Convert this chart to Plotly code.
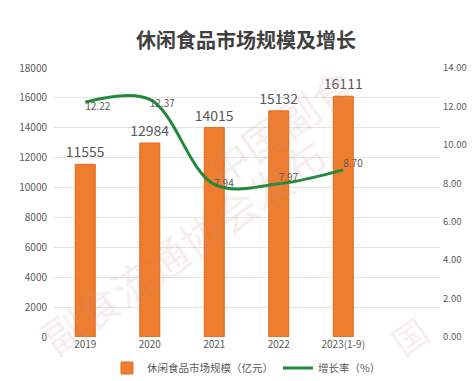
import plotly.graph_objects as go

years = ["2019", "2020", "2021", "2022", "2023(1-9)"]
market_size = [11555, 12984, 14015, 15132, 16111]
growth_rate = [12.22, 12.37, 7.94, 7.97, 8.70]
left_ticks = [0, 2000, 4000, 6000, 8000, 10000, 12000, 14000, 16000, 18000]
right_ticks = [0, 2, 4, 6, 8, 10, 12, 14]

xpos = list(range(len(years)))
FONT = "Noto Sans CJK SC"
GRAY = "#595959"

fig = go.Figure()
fig.add_trace(go.Bar(
    x=xpos, y=market_size, name="休闲食品市场规模（亿元）",
    marker=dict(color="#EE7D2F", line=dict(color="#E06A1E", width=1)),
    width=0.31,
    text=[str(v) for v in market_size], textposition="outside",
    constraintext="none",
    textfont=dict(size=14, color=GRAY, family=FONT),
    cliponaxis=False,
))
fig.add_trace(go.Scatter(
    x=xpos, y=growth_rate, name="增长率（%）", yaxis="y2",
    mode="lines+text",
    line=dict(color="#1E8A3A", width=3, shape="spline", smoothing=1.0),
    text=[f"{v:.2f}" for v in growth_rate],
    textposition=["bottom right", "bottom right", "middle right", "top right", "top right"],
    textfont=dict(size=10, color=GRAY, family=FONT),
    cliponaxis=False,
))

wm_color = "rgba(200,150,150,0.18)"
for txt, cx, cy, sz in [("副食流通协会发布", 175, 237, 42), ("中国副食", 272, 42, 42), ("国", 432, 360, 34)]:
    fig.add_annotation(text=txt, xref="paper", yref="paper",
                       x=(cx - 45) / 387, y=(329 - cy) / 269,
                       showarrow=False, textangle=-35,
                       font=dict(size=sz, color=wm_color, family=FONT))

fig.update_layout(
    width=476, height=381,
    margin=dict(l=45, r=44, t=60, b=52, autoexpand=False),
    paper_bgcolor="white", plot_bgcolor="white",
    title=dict(text="<b>休闲食品市场规模及增长</b>", x=0.5, xanchor="center",
               y=(381 - 33) / 381, yanchor="middle", yref="container",
               font=dict(size=20, color="#404040", family=FONT)),
    font=dict(family=FONT, color=GRAY, size=10),
    xaxis=dict(range=[-0.5, 5.5], tickvals=xpos, ticktext=years, showgrid=False,
               zeroline=False, showline=False, tickfont=dict(size=10, color=GRAY),
               automargin=False),
    yaxis=dict(range=[0, 18000], tickvals=left_ticks, tickformat="d", showgrid=True,
               gridcolor="#E3E3E3", zeroline=False, tickfont=dict(size=10, color=GRAY),
               ticks="", ticklabelstandoff=5, automargin=False),
    yaxis2=dict(range=[0, 14], tickvals=right_ticks, tickformat=".2f", overlaying="y",
                side="right", showgrid=False, zeroline=False,
                tickfont=dict(size=9.5, color=GRAY), ticklabelstandoff=2, automargin=False),
    legend=dict(orientation="h", x=0.5, xanchor="center", yref="container",
                y=(381 - 360) / 381, yanchor="middle",
                font=dict(size=10.5, color=GRAY, family=FONT)),
    showlegend=True,
)
fig.write_html("out.html")
